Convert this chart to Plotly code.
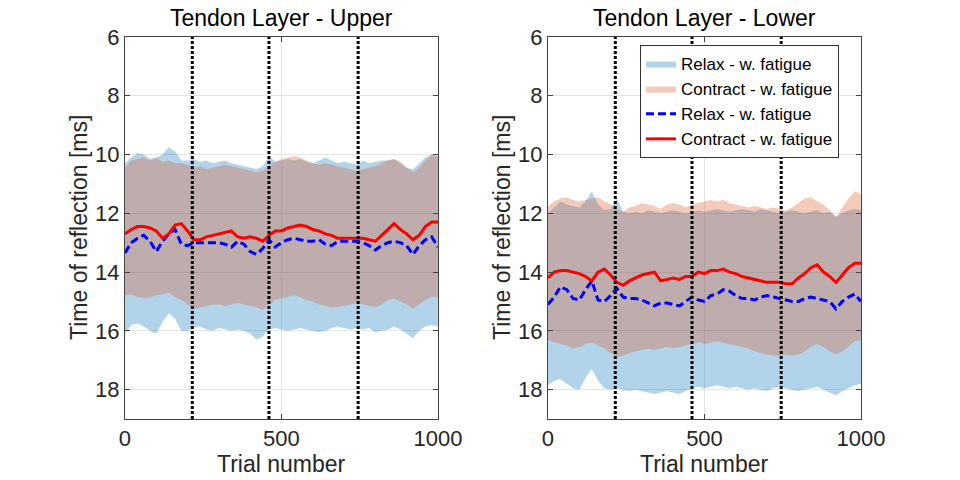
import plotly.graph_objects as go

TRIALS = list(range(0, 1001, 20))
VLINES = [215, 460, 745]
Y_TICKS = [6, 8, 10, 12, 14, 16, 18]
X_TICKS = [0, 500, 1000]
TITLES = ["Tendon Layer - Upper", "Tendon Layer - Lower"]
NAMES = ["Relax - w. fatigue", "Contract - w. fatigue"]

# ---- Upper (left) panel ----
up_contract_mean = [12.7, 12.55, 12.45, 12.45, 12.5, 12.6, 12.85, 12.7, 12.4, 12.35, 12.6, 12.9, 12.9, 12.8, 12.75, 12.7, 12.65, 12.6, 12.8, 12.85, 12.8,
                    12.85, 12.95, 12.75, 12.6, 12.6, 12.5, 12.45, 12.4, 12.45, 12.55, 12.6, 12.7, 12.75, 12.85, 12.85, 12.85, 12.85, 12.85, 12.9, 12.95,
                    12.75, 12.55, 12.35, 12.55, 12.7, 12.9, 12.75, 12.45, 12.3, 12.3]
up_relax_mean = [13.35, 13.0, 12.85, 12.75, 12.95, 13.3, 12.95, 12.7, 12.55, 13.05, 13.1, 13.0, 13.0, 13.0, 13.0, 13.0, 13.05, 13.15, 12.95, 13.05, 13.3,
                 13.4, 13.2, 12.9, 13.15, 13.0, 12.9, 12.85, 12.9, 12.95, 12.95, 12.9, 13.05, 13.1, 12.95, 12.95, 12.95, 12.95, 13.0, 13.1, 13.25,
                 13.1, 13.0, 12.95, 13.0, 13.1, 13.4, 13.1, 12.9, 12.8, 13.15]
up_relax_top = [10.3, 10.1, 9.95, 10.0, 10.15, 10.1, 10.0, 9.75, 9.9, 10.2, 10.2, 10.15, 10.25, 10.2, 10.3, 10.25, 10.2, 10.3, 10.35, 10.4, 10.45,
                10.5, 10.4, 10.05, 10.25, 10.2, 10.15, 10.2, 10.15, 10.25, 10.3, 10.2, 10.1, 10.2, 10.3, 10.25, 10.3, 10.35, 10.2, 10.3, 10.25,
                10.2, 10.2, 10.15, 10.3, 10.45, 10.5, 10.3, 10.1, 10.0, 10.05]
up_relax_bot = [16.1, 15.8, 15.75, 15.85, 16.0, 16.1, 15.7, 15.4, 15.6, 16.0, 16.0, 15.9, 15.85, 15.95, 16.0, 15.9, 15.95, 16.0, 15.95, 16.0, 16.1,
                16.3, 16.2, 15.95, 15.9, 15.95, 16.0, 15.95, 15.9, 15.95, 16.0, 16.05, 16.0, 15.9, 15.85, 15.9, 15.95, 15.9, 15.95, 15.9, 16.05,
                16.0, 15.95, 15.85, 15.95, 16.1, 16.25, 16.0, 15.85, 15.8, 15.85]
up_contract_top = [10.45, 10.2, 10.15, 10.1, 10.2, 10.1, 10.25, 10.2, 10.3, 10.3, 10.35, 10.45, 10.4, 10.5, 10.45, 10.4, 10.35, 10.4, 10.45, 10.5, 10.55,
                   10.6, 10.55, 10.4, 10.25, 10.15, 10.1, 10.05, 10.1, 10.2, 10.3, 10.35, 10.3, 10.35, 10.4, 10.45, 10.5, 10.55, 10.5, 10.45, 10.4,
                   10.3, 10.2, 10.15, 10.25, 10.45, 10.6, 10.45, 10.2, 10.0, 10.05]
up_contract_bot = [14.8, 14.75, 14.85, 14.9, 14.85, 14.8, 14.75, 14.7, 14.85, 14.95, 15.1, 15.25, 15.2, 15.15, 15.1, 15.1, 15.15, 15.1, 15.05, 15.1, 15.15,
                   15.2, 15.3, 15.1, 14.95, 14.9, 14.85, 14.8, 14.85, 14.95, 15.0, 15.1, 15.15, 15.2, 15.2, 15.15, 15.1, 15.05, 15.1, 15.15, 15.2,
                   15.1, 14.95, 14.9, 15.0, 15.1, 15.25, 15.1, 14.95, 14.85, 14.85]

# ---- Lower (right) panel ----
lo_contract_mean = [14.2, 14.0, 13.95, 13.95, 14.0, 14.05, 14.15, 14.3, 14.0, 13.9, 14.1, 14.35, 14.45, 14.3, 14.2, 14.1, 14.05, 14.0, 14.3, 14.25, 14.2,
                    14.25, 14.15, 14.15, 14.0, 14.05, 13.95, 13.95, 13.9, 14.0, 14.05, 14.15, 14.2, 14.25, 14.3, 14.35, 14.35, 14.35, 14.4, 14.4, 14.2,
                    14.05, 13.85, 13.75, 14.0, 14.15, 14.35, 14.1, 13.85, 13.7, 13.7]
lo_relax_mean = [15.1, 14.85, 14.5, 14.6, 14.9, 14.95, 14.6, 14.3, 14.95, 15.0, 14.8, 14.55, 14.85, 14.9, 14.9, 14.95, 15.05, 15.15, 15.05, 15.05, 15.1,
                 15.15, 15.0, 14.85, 14.95, 15.0, 14.8, 14.75, 14.6, 14.65, 14.8, 14.9, 14.9, 14.95, 14.85, 14.8, 14.85, 14.9, 14.95, 15.0, 15.0,
                 14.9, 14.85, 14.9, 14.95, 15.0, 15.25, 15.0, 14.85, 14.75, 15.0]
lo_relax_top = [12.0, 11.8, 11.6, 11.7, 11.75, 11.8, 11.6, 11.25, 11.7, 11.9, 11.85, 11.5, 11.95, 12.0, 11.95, 12.0, 11.9, 11.95, 12.0, 11.95, 11.9,
                11.95, 12.0, 11.95, 11.9, 11.95, 11.9, 11.85, 11.9, 11.95, 11.9, 11.85, 11.9, 11.95, 11.85, 11.9, 11.95, 12.0, 11.95, 11.9, 11.95,
                12.0, 11.95, 11.9, 12.0, 11.95, 12.1, 12.0, 11.9, 11.85, 11.9]
lo_relax_bot = [17.85, 17.7, 17.65, 17.8, 17.95, 18.0, 17.6, 17.3, 17.7, 17.95, 18.0, 17.95, 18.0, 18.05, 18.0, 18.05, 18.1, 18.15, 18.1, 18.05, 18.1,
                18.15, 18.05, 17.95, 17.9, 17.95, 17.9, 17.85, 17.9, 17.95, 17.9, 17.95, 18.0, 17.95, 18.0, 18.05, 17.95, 17.9, 17.95, 18.0, 18.05,
                18.0, 17.95, 17.9, 18.0, 18.1, 18.2, 18.05, 17.95, 17.85, 17.8]
lo_contract_top = [11.75, 11.6, 11.5, 11.45, 11.55, 11.6, 11.55, 11.5, 11.45, 11.6, 11.7, 11.85, 11.95, 11.8, 11.75, 11.65, 11.7, 11.75, 11.85, 11.7, 11.65,
                   11.7, 11.8, 11.7, 11.65, 11.6, 11.55, 11.6, 11.55, 11.65, 11.7, 11.75, 11.8, 11.75, 11.8, 11.85, 11.8, 11.85, 11.9, 11.8, 11.65,
                   11.5, 11.45, 11.6, 11.7, 11.9, 12.15, 11.8, 11.5, 11.25, 11.35]
lo_contract_bot = [16.3, 16.4, 16.45, 16.5, 16.6, 16.55, 16.45, 16.4, 16.5, 16.6, 16.75, 16.9, 16.85, 16.75, 16.7, 16.65, 16.6, 16.65, 16.6, 16.55, 16.6,
                   16.55, 16.5, 16.45, 16.4, 16.45, 16.4, 16.35, 16.4, 16.45, 16.5, 16.55, 16.6, 16.7, 16.75, 16.8, 16.85, 16.85, 16.8, 16.85, 16.8,
                   16.7, 16.55, 16.45, 16.55, 16.7, 16.8, 16.7, 16.55, 16.35, 16.3]

RELAX_FILL = "rgba(0,114,189,0.30)"
CONTRACT_FILL = "rgba(217,83,25,0.30)"
FONT = "Liberation Sans, Arial, Helvetica, sans-serif"

panels = [
    dict(rm=up_relax_mean, cm=up_contract_mean, rt=up_relax_top, rb=up_relax_bot, ct=up_contract_top, cb=up_contract_bot),
    dict(rm=lo_relax_mean, cm=lo_contract_mean, rt=lo_relax_top, rb=lo_relax_bot, ct=lo_contract_top, cb=lo_contract_bot),
]

fig = go.Figure()
xdoms = [[0.1302, 0.4562], [0.5708, 0.8969]]
ydom = [0.127, 0.923]

for i, p in enumerate(panels):
    xa = "x" if i == 0 else "x2"
    ya = "y" if i == 0 else "y2"
    show = (i == 1)
    poly_x = TRIALS + TRIALS[::-1]
    fig.add_trace(go.Scatter(x=poly_x, y=p["rt"] + p["rb"][::-1], fill="toself", fillcolor=RELAX_FILL,
                             line=dict(width=0), mode="lines", name=NAMES[0], showlegend=show,
                             xaxis=xa, yaxis=ya, hoverinfo="skip"))
    fig.add_trace(go.Scatter(x=poly_x, y=p["ct"] + p["cb"][::-1], fill="toself", fillcolor=CONTRACT_FILL,
                             line=dict(width=0), mode="lines", name=NAMES[1], showlegend=show,
                             xaxis=xa, yaxis=ya, hoverinfo="skip"))
    fig.add_trace(go.Scatter(x=TRIALS, y=p["rm"], mode="lines", line=dict(color="#0000ff", width=3, dash="8px,4px"),
                             name=NAMES[0], showlegend=show, xaxis=xa, yaxis=ya))
    fig.add_trace(go.Scatter(x=TRIALS, y=p["cm"], mode="lines", line=dict(color="#ff0000", width=3),
                             name=NAMES[1], showlegend=show, xaxis=xa, yaxis=ya))
    for v in VLINES:
        fig.add_shape(type="line", x0=v, x1=v, y0=0, y1=1, xref=xa, yref=f"{ya} domain",
                      line=dict(color="black", width=3, dash="3px,2px"), layer="above")

axis_common = dict(showline=True, mirror="ticks", linecolor="#444444", linewidth=1, ticks="inside", ticklen=5,
                   tickcolor="#444444", showgrid=True, gridcolor="#e4e4e4", gridwidth=1, zeroline=False,
                   automargin=False, tickfont=dict(family=FONT, size=22, color="#262626"))

for i in range(2):
    sfx = "" if i == 0 else "2"
    fig.layout["xaxis" + sfx] = dict(axis_common, domain=xdoms[i], range=[0, 1000], tickvals=X_TICKS,
                                     anchor="y" + sfx)
    fig.layout["yaxis" + sfx] = dict(axis_common, domain=ydom, range=[19, 6], tickvals=Y_TICKS,
                                     anchor="x" + sfx)

annotations = []
for i in range(2):
    cx = (xdoms[i][0] + xdoms[i][1]) / 2
    annotations.append(dict(text=TITLES[i], x=cx, y=1 - 18 / 480, xref="paper", yref="paper", showarrow=False,
                            xanchor="center", yanchor="middle", font=dict(family=FONT, size=23, color="black")))
    annotations.append(dict(text="Trial number", x=cx, y=1 - 464 / 480, xref="paper", yref="paper", showarrow=False,
                            xanchor="center", yanchor="middle", font=dict(family=FONT, size=23, color="#262626")))
    ytx = [79 / 960, 502 / 960][i]
    annotations.append(dict(text="Time of reflection [ms]", x=ytx, y=(ydom[0] + ydom[1]) / 2, xref="paper", yref="paper",
                            showarrow=False, textangle=-90, xanchor="center", yanchor="middle",
                            font=dict(family=FONT, size=23, color="#262626")))

fig.update_layout(
    width=960, height=480, margin=dict(l=0, r=0, t=0, b=0, pad=0, autoexpand=False),
    paper_bgcolor="white", plot_bgcolor="white",
    annotations=annotations,
    legend=dict(x=640 / 960, y=1 - 45 / 480, xanchor="left", yanchor="top", bgcolor="white",
                bordercolor="#333333", borderwidth=1, font=dict(family=FONT, size=17, color="black"),
                tracegroupgap=0, itemwidth=30),
    font=dict(family=FONT),
)

fig.write_html("out.html", config={"displayModeBar": False},
               post_script="document.body.style.margin='0px';document.body.style.overflow='hidden';")
